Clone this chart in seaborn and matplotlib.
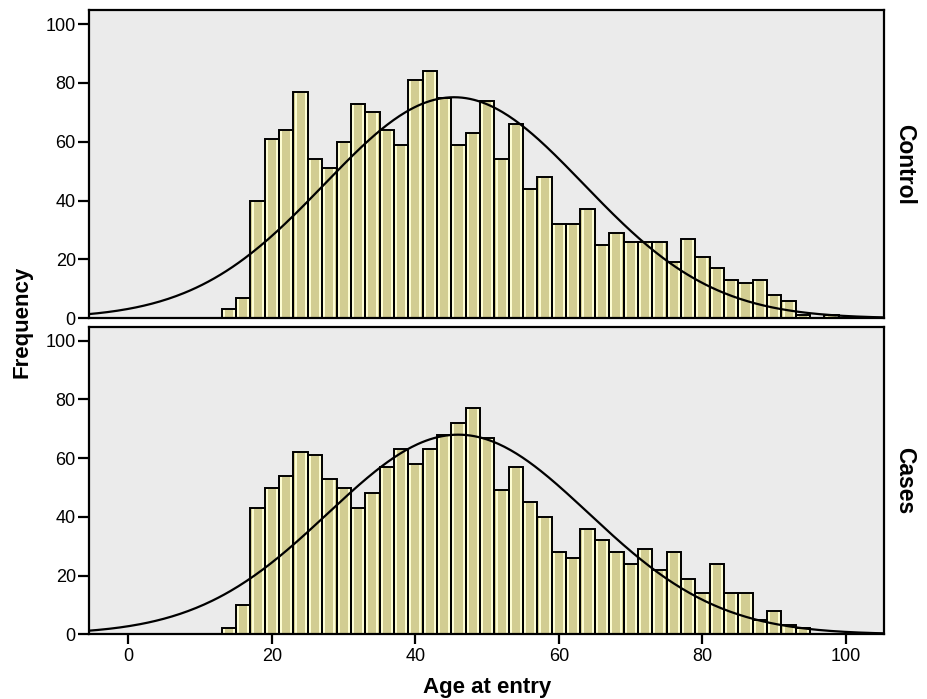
import numpy as np
import pandas as pd
import matplotlib
matplotlib.use("Agg")
import matplotlib.pyplot as plt
import seaborn as sns

# ---- data (2-year bins, centres 14..98) ----
bin_centers = list(range(14, 100, 2))
control_counts = [3, 7, 40, 61, 64, 77, 54, 51, 60, 73, 70, 64, 59, 81, 84, 75,
                  59, 63, 74, 54, 66, 44, 48, 32, 32, 37, 25, 29, 26, 26, 26, 19,
                  27, 21, 17, 13, 12, 13, 8, 6, 1, 0, 1]
cases_counts = [2, 10, 43, 50, 54, 62, 61, 53, 50, 43, 48, 57, 63, 58, 63, 68,
                72, 77, 67, 49, 57, 45, 40, 28, 26, 36, 32, 28, 24, 29, 22, 28,
                19, 14, 24, 14, 14, 5, 8, 3, 2, 0, 0]
panel_labels = ["Control", "Cases"]
x_ticks = [0, 20, 40, 60, 80, 100]
y_ticks = [0, 20, 40, 60, 80, 100]
bin_width = 2

sns.set_theme(style="white")
plt.rcParams["font.family"] = ["Liberation Sans", "DejaVu Sans"]
plt.rcParams["text.color"] = "black"
plt.rcParams["xtick.color"] = "black"
plt.rcParams["ytick.color"] = "black"

BAR = "#d2cd92"
HIGHLIGHT = "#ffffd6"
BG = "#ebebeb"

fig = plt.figure(figsize=(9.27, 6.99), dpi=100)
ax_top = fig.add_axes([89 / 927, 1 - 318.3 / 699, (884 - 89) / 927, (318.3 - 10) / 699])
ax_bot = fig.add_axes([89 / 927, 1 - 634.3 / 699, (884 - 89) / 927, (634.3 - 326.7) / 699])

brange = (bin_centers[0] - bin_width / 2, bin_centers[-1] + bin_width / 2)

for ax, counts, label in [(ax_top, control_counts, panel_labels[0]),
                          (ax_bot, cases_counts, panel_labels[1])]:
    df = pd.DataFrame({"age": bin_centers, "n": counts})
    ax.set_facecolor(BG)
    common = dict(data=df, x="age", weights="n", binwidth=bin_width,
                  binrange=brange, ax=ax)
    # filled bars
    sns.histplot(**common, color=BAR, alpha=1, edgecolor=BAR, linewidth=0.5)
    # light inner highlight
    sns.histplot(**common, fill=False, shrink=0.7, color=HIGHLIGHT,
                 linewidth=1.4, alpha=1)
    # black outlines
    sns.histplot(**common, fill=False, color="black", linewidth=1.4, alpha=1)
    # fitted normal curve from the binned data
    c = np.array(bin_centers, float)
    w = np.array(counts, float)
    N = w.sum()
    mu = (c * w).sum() / N
    sd = np.sqrt(((c - mu) ** 2 * w).sum() / (N - 1))
    xs = np.linspace(-6, 106, 400)
    ys = N * bin_width * np.exp(-0.5 * ((xs - mu) / sd) ** 2) / (sd * np.sqrt(2 * np.pi))
    sns.lineplot(x=xs, y=ys, ax=ax, color="black", linewidth=1.6)

    ax.set_xlim(-5.5, 105.3)
    ax.set_ylim(0, 104.8)
    ax.set_yticks(y_ticks)
    ax.set_yticklabels([str(v) for v in y_ticks], fontsize=13, color="black")
    ax.set_xlabel("")
    ax.set_ylabel("")
    for s in ax.spines.values():
        s.set_color("black")
        s.set_linewidth(1.6)
    ax.tick_params(axis="y", which="both", left=True, direction="out",
                   length=8, width=1.6, color="black", pad=1.5)
    ax.text(1.0 + 21 / 795, 0.5, label, transform=ax.transAxes, rotation=-90,
            ha="center", va="center", fontsize=16.5, fontweight="bold",
            color="black")

ax_top.set_xticks([])
ax_bot.set_xticks(x_ticks)
ax_bot.set_xticklabels([str(v) for v in x_ticks], fontsize=13, color="black")
ax_bot.tick_params(axis="x", bottom=True, direction="out", length=7, width=1.6,
                   color="black", pad=3)

fig.text(22 / 927, 1 - 322 / 699, "Frequency", rotation=90, ha="center",
         va="center", fontsize=16, fontweight="bold", color="black")
fig.text(487 / 927, 1 - 688 / 699, "Age at entry", ha="center", va="center",
         fontsize=16, fontweight="bold", color="black")

fig.savefig("out.png", dpi=100, facecolor="white")
